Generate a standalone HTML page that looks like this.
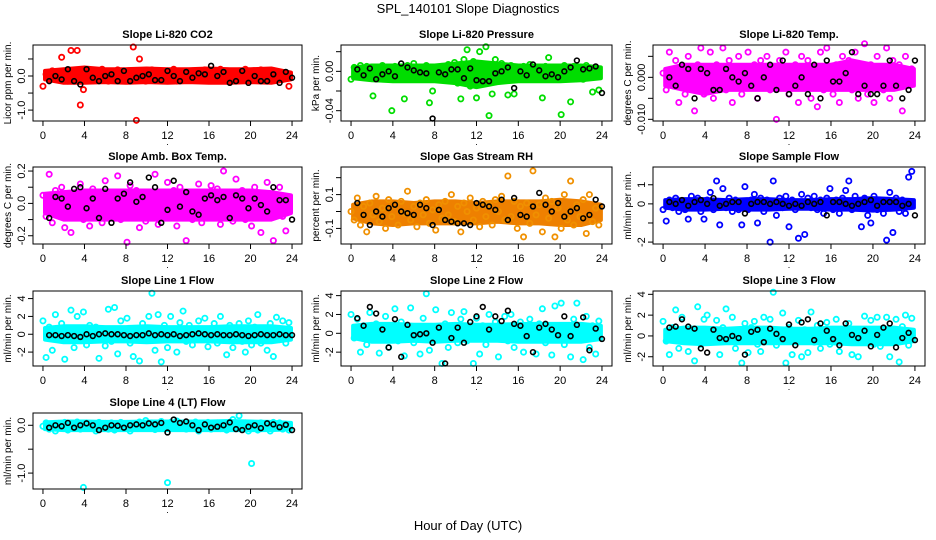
<!DOCTYPE html>
<html><head><meta charset="utf-8"><style>
html,body{margin:0;padding:0;background:#fff;}
svg{display:block;font-family:"Liberation Sans",sans-serif;}
</style></head><body>
<svg id="chart" width="936" height="540" viewBox="0 0 936 540" xmlns="http://www.w3.org/2000/svg">
<rect x="0" y="0" width="936" height="540" fill="#fff"/>
<text x="468" y="13" text-anchor="middle" font-size="13">SPL_140101  Slope Diagnostics</text>
<text x="468" y="530" text-anchor="middle" font-size="13">Hour of Day (UTC)</text>
</svg>
<script>
const hrs=[0,0.3,0.6,0.9,1.2,1.5,1.8,2.1,2.4,2.7,3,3.3,3.6,3.9,4.2,4.5,4.8,5.1,5.4,5.7,6,6.3,6.6,6.9,7.2,7.5,7.8,8.1,8.4,8.7,9,9.3,9.6,9.9,10.2,10.5,10.8,11.1,11.4,11.7,12,12.3,12.6,12.9,13.2,13.5,13.8,14.1,14.4,14.7,15,15.3,15.6,15.9,16.2,16.5,16.8,17.1,17.4,17.7,18,18.3,18.6,18.9,19.2,19.5,19.8,20.1,20.4,20.7,21,21.3,21.6,21.9,22.2,22.5,22.8,23.1,23.4,23.7];
const bhrs=[0.6,1.2,1.8,2.4,3.0,3.6,4.2,4.8,5.4,6.0,6.6,7.2,7.8,8.4,9.0,9.6,10.2,10.8,11.4,12.0,12.6,13.2,13.8,14.4,15.0,15.6,16.2,16.8,17.4,18.0,18.6,19.2,19.8,20.4,21.0,21.6,22.2,22.8,23.4,24.0];
const bandHrs=[0.2,2,4,6,8,10,12,14,16,18,20,22,23.9];
const xTicks=[0,4,8,12,16,20,24];

const co2Vals=[-0.30,0.05,-0.10,0.15,0.00,-0.12,0.55,0.10,-0.15,0.75,0.12,0.75,-0.85,-0.40,0.10,-0.12,0.15,0.00,-0.10,0.20,0.05,-0.15,0.12,-0.05,0.18,0.00,-0.12,0.10,-0.08,0.85,-1.30,0.50,0.12,-0.15,0.05,0.18,-0.10,0.00,0.15,-0.12,0.08,-0.05,0.20,-0.15,0.05,0.12,-0.10,0.00,0.15,-0.08,0.10,-0.12,0.18,0.02,-0.10,0.12,-0.05,0.20,0.00,-0.15,0.10,0.05,-0.12,0.15,-0.05,0.20,0.00,-0.10,0.12,-0.08,0.18,0.02,-0.12,0.10,0.15,-0.05,0.08,-0.10,0.05,-0.30];
const co2Black=[-0.15,0.0,-0.1,0.2,-0.15,-0.25,0.2,-0.05,-0.15,0.0,0.05,-0.15,0.15,-0.15,-0.05,0.0,0.05,-0.12,-0.12,0.15,0.0,-0.15,0.12,-0.05,0.08,0.05,0.3,0.0,0.12,-0.2,-0.15,0.15,-0.2,0.0,-0.15,-0.15,0.05,-0.2,0.12,-0.05];
const co2Lo=[-0.1,-0.2,-0.2,-0.18,-0.2,-0.18,-0.2,-0.18,-0.2,-0.2,-0.18,-0.2,-0.1];
const co2Hi=[0.15,0.2,0.25,0.2,0.2,0.22,0.2,0.2,0.22,0.2,0.2,0.22,0.1];
const presVals=[-0.008,0.004,-0.005,0.006,-0.003,0.005,-0.006,-0.025,0.003,-0.004,0.006,-0.007,0.002,-0.04,0.005,-0.006,0.004,-0.028,0.006,-0.004,0.008,-0.008,0.003,-0.005,0.006,-0.032,-0.02,0.004,-0.006,0.005,-0.008,0.007,-0.004,0.009,-0.012,-0.028,0.012,0.022,-0.015,0.010,-0.027,0.02,-0.012,0.025,-0.045,-0.023,0.012,-0.010,0.008,-0.006,-0.024,0.006,-0.023,0.004,-0.006,0.005,-0.008,0.007,-0.005,0.004,-0.008,-0.027,0.005,0.014,-0.006,0.004,-0.007,-0.044,0.006,-0.004,-0.031,0.005,-0.006,0.004,-0.008,0.006,-0.004,-0.021,0.003,-0.019];
const presBlack=[0.002,-0.004,0.003,-0.008,-0.003,0.000,-0.005,0.008,0.004,0.001,-0.001,-0.002,-0.048,-0.001,-0.003,0.002,0.002,-0.007,0.003,-0.009,-0.010,-0.010,-0.002,0.000,0.004,-0.017,0.000,-0.004,0.007,0.001,-0.005,-0.003,-0.006,0.000,0.004,0.011,0.002,0.003,0.005,-0.022];
const presLo=[-0.007,-0.009,-0.01,-0.01,-0.01,-0.012,-0.016,-0.012,-0.01,-0.01,-0.01,-0.009,-0.007];
const presHi=[0.004,0.006,0.006,0.006,0.006,0.008,0.01,0.008,0.006,0.006,0.006,0.006,0.004];
const tempVals=[0.001,-0.003,0.006,-0.002,0.004,-0.006,0.002,-0.004,0.005,-0.002,-0.008,0.003,0.007,-0.004,0.001,0.006,-0.005,0.003,-0.002,0.007,-0.003,0.004,-0.006,0.002,0.005,-0.004,0.000,0.006,-0.002,0.003,-0.005,0.004,-0.001,0.005,-0.003,0.002,-0.010,0.004,-0.002,0.006,-0.004,0.001,0.003,-0.006,0.005,-0.002,0.004,-0.005,0.002,-0.007,0.006,-0.003,0.007,0.001,-0.004,0.003,-0.006,0.005,-0.002,0.004,-0.003,0.006,-0.005,0.002,0.008,-0.004,0.003,-0.006,0.005,0.000,-0.003,0.007,-0.005,0.004,-0.002,0.003,-0.008,0.005,-0.001,0.002];
const tempBlack=[0.000,-0.002,0.003,0.002,-0.005,0.002,0.001,-0.003,-0.003,0.002,0.000,-0.001,0.001,-0.002,-0.005,0.000,0.003,-0.003,0.004,-0.004,-0.002,0.000,-0.004,0.003,-0.005,0.004,-0.001,-0.001,0.001,0.006,-0.004,-0.002,-0.004,-0.004,-0.002,0.004,-0.002,-0.005,-0.003,0.004];
const tempLo=[-0.002,-0.003,-0.004,-0.003,-0.003,-0.003,-0.003,-0.003,-0.003,-0.003,-0.003,-0.003,-0.002];
const tempHi=[0.002,0.003,0.003,0.003,0.003,0.003,0.003,0.003,0.003,0.004,0.003,0.003,0.002];
const ambVals=[0.05,-0.08,0.18,-0.12,0.08,-0.03,0.10,-0.15,0.02,-0.18,0.06,-0.05,0.12,-0.10,0.04,-0.14,0.09,-0.02,0.07,-0.12,0.14,-0.06,0.03,-0.08,0.17,-0.10,0.05,-0.24,0.11,-0.04,0.08,-0.15,0.02,-0.11,0.06,-0.07,0.18,-0.13,0.05,-0.09,0.13,-0.03,0.08,-0.14,0.10,-0.06,-0.23,0.07,-0.10,0.04,0.12,-0.12,0.03,-0.08,0.11,-0.05,0.09,-0.13,0.20,-0.07,0.06,-0.11,0.15,-0.04,0.08,-0.10,0.03,-0.14,0.10,-0.06,-0.18,0.05,0.13,-0.09,-0.23,0.02,0.10,-0.08,-0.17,0.03];
const ambBlack=[-0.09,0.04,0.03,-0.02,0.09,0.10,-0.03,0.03,-0.09,0.09,-0.12,0.03,0.06,0.13,0.01,0.04,0.16,0.10,-0.12,-0.04,0.14,-0.02,0.07,-0.05,-0.07,0.03,0.05,0.02,0.04,-0.09,0.05,0.03,-0.03,0.03,-0.01,-0.05,0.10,0.02,0.02,-0.10];
const ambLo=[-0.06,-0.1,-0.1,-0.1,-0.1,-0.1,-0.1,-0.1,-0.1,-0.1,-0.1,-0.1,-0.06];
const ambHi=[0.06,0.07,0.08,0.08,0.08,0.08,0.08,0.08,0.08,0.08,0.08,0.07,0.05];
const rhVals=[0.0,-0.05,0.08,-0.08,0.03,-0.12,0.05,-0.02,0.09,-0.06,0.02,-0.10,0.07,-0.03,0.04,-0.08,0.06,-0.01,0.12,-0.05,0.03,-0.09,0.05,-0.02,0.07,-0.07,0.01,-0.11,0.04,-0.04,0.06,-0.02,0.10,-0.06,0.03,-0.12,0.05,0.00,0.08,-0.05,0.02,-0.09,0.06,-0.03,0.04,-0.08,0.07,0.00,0.09,-0.05,0.21,-0.03,0.06,-0.10,0.03,-0.15,0.05,-0.07,0.24,-0.02,0.04,-0.12,0.08,-0.04,0.06,-0.15,0.02,-0.10,0.10,-0.05,0.18,-0.08,0.04,-0.03,0.07,-0.13,0.10,-0.06,0.02,-0.08];
const rhBlack=[0.05,-0.02,-0.08,0.0,-0.03,0.02,0.04,0.0,-0.01,-0.02,0.04,0.02,-0.08,0.01,-0.05,-0.06,-0.07,-0.07,-0.08,0.05,0.04,0.03,0.01,0.07,-0.05,0.08,-0.02,-0.03,0.03,0.11,0.04,0.0,0.05,-0.03,0.0,0.02,-0.04,-0.02,0.07,0.03];
const rhLo=[-0.04,-0.07,-0.08,-0.07,-0.07,-0.07,-0.07,-0.06,-0.07,-0.07,-0.08,-0.08,-0.05];
const rhHi=[0.04,0.06,0.06,0.05,0.06,0.06,0.05,0.06,0.06,0.06,0.07,0.06,0.04];
const sampVals=[-0.3,-0.9,0.2,-0.2,0.3,-0.4,0.1,-0.3,-0.8,0.4,-0.2,0.3,-0.4,-0.8,0.2,0.6,-0.3,1.2,-1.1,0.8,-0.2,0.3,-0.4,0.2,-0.3,-1.1,0.9,-0.3,0.2,0.5,-1.0,0.3,-0.4,0.2,-2.0,1.2,-0.6,0.3,-0.2,0.4,-1.2,0.2,-0.3,-1.8,0.5,-1.6,0.3,-0.2,0.4,-0.3,0.2,-0.5,0.3,0.8,-0.3,0.2,-0.5,0.3,0.7,1.2,-0.3,0.4,-0.2,-1.2,0.3,-0.6,-1.0,0.4,-0.3,0.2,-0.5,-1.9,0.6,-1.5,0.3,-0.4,0.2,-0.5,1.4,1.7];
const sampBlack=[0.1,0.0,0.2,-0.1,0.1,0.2,0.0,0.3,-0.1,0.0,0.1,0.1,-0.5,0.0,0.1,0.1,0.0,0.1,0.0,-0.1,0.0,-0.1,0.1,0.0,0.1,-0.6,0.1,0.1,0.0,-0.1,0.0,0.1,0.2,-0.1,0.1,0.1,0.1,-0.1,0.0,-0.6];
const sampLo=[-0.2,-0.3,-0.3,-0.25,-0.3,-0.3,-0.25,-0.25,-0.3,-0.3,-0.35,-0.3,-0.2];
const sampHi=[0.2,0.25,0.25,0.2,0.25,0.25,0.2,0.2,0.25,0.25,0.3,0.25,0.2];
const l1Vals=[1.5,-2.6,0.8,-1.8,2.2,-0.6,1.2,-2.8,0.5,2.7,-1.5,2.0,-0.4,2.5,-1.2,1.0,-0.5,0.8,-2.7,0.3,-1.3,2.8,-0.8,3.0,-2.2,1.5,-0.6,1.8,-1.0,-2.5,0.6,-3.0,1.2,-0.7,2.0,4.6,-1.8,2.2,-3.1,1.0,-1.5,2.0,-0.5,-2.0,1.3,2.6,-0.8,1.0,-1.2,0.5,1.5,-0.6,1.8,-1.4,0.4,1.2,-1.0,2.0,-0.5,-2.3,1.0,-1.5,0.6,1.2,-0.8,-2.0,1.5,-1.2,0.8,2.2,-1.0,0.5,-1.8,1.2,-2.5,1.9,-0.6,1.5,-1.0,1.3];
const l1Black=[-0.1,-0.1,-0.2,-0.1,-0.2,-0.3,0.0,-0.2,0.0,0.1,0.0,0.0,-0.1,-0.2,-0.1,-0.1,0.1,-0.1,0.0,-0.1,0.0,-0.2,-0.1,0.0,0.1,0.0,-0.1,0.0,-0.1,-0.1,0.0,-0.1,-0.2,-0.1,0.0,-0.1,-0.1,0.0,-0.1,-0.1];
const l1Lo=[-0.6,-0.9,-0.9,-0.8,-0.8,-0.9,-0.8,-0.8,-0.8,-0.9,-0.9,-0.9,-0.6];
const l1Hi=[0.7,0.9,0.9,0.8,0.8,0.9,0.8,0.8,0.8,0.9,0.9,0.9,0.7];
const l2Vals=[2.0,-0.5,1.5,-2.0,0.8,-1.2,2.2,-0.3,1.0,-2.1,0.5,1.8,-1.5,0.3,2.6,-0.8,1.2,-2.4,0.6,2.7,-1.0,0.3,-2.2,1.6,4.2,-1.8,0.4,2.5,-0.6,-3.2,1.0,-1.5,2.2,0.2,-1.0,1.5,2.3,-0.8,0.5,-3.2,1.6,-2.2,0.8,-1.2,2.0,-0.4,1.2,-2.5,0.6,1.8,-0.8,2.0,-1.5,0.3,1.2,-2.0,0.7,1.5,-0.5,-2.2,1.0,2.6,-1.0,0.4,-2.3,2.9,-0.5,3.2,-1.2,0.8,-2.5,1.5,3.2,-0.6,-2.8,1.8,-1.5,0.8,-2.2,1.3];
const l2Black=[1.6,0.8,2.8,2.1,0.4,-1.5,1.5,-2.5,0.9,-0.2,-0.1,0.0,-1.0,0.6,-3.2,-0.5,0.6,-1.0,1.2,1.8,2.8,0.4,1.8,1.3,2.4,1.0,0.8,-0.3,-2.0,0.6,1.0,0.4,-0.2,1.8,-0.3,0.9,1.7,-1.8,0.5,-0.6];
const l2Lo=[-0.5,-0.9,-0.9,-0.8,-0.9,-0.8,-0.8,-0.8,-0.9,-0.9,-0.9,-0.9,-0.6];
const l2Hi=[0.8,1.0,1.0,0.9,0.9,1.0,0.9,0.9,1.0,1.0,1.0,1.0,0.8];
const l3Vals=[1.4,-0.5,-1.8,0.8,2.5,-1.2,1.8,0.3,-1.5,0.6,-2.4,2.8,-0.8,1.6,2.0,-0.3,0.5,1.5,-1.8,0.8,2.6,-0.5,1.8,-1.2,0.4,-2.6,1.2,-1.6,0.8,1.4,-0.8,-1.5,1.8,-0.4,1.6,4.2,-0.9,0.3,2.2,-2.6,0.8,-1.8,0.5,1.5,-2.0,0.6,-1.6,2.3,-0.6,1.0,-1.2,0.5,1.3,-0.8,0.3,1.6,-1.5,0.5,-0.6,1.2,-1.8,0.6,-2.0,0.4,1.9,-0.5,1.5,-0.8,1.8,-1.0,0.6,1.8,-2.0,-0.5,1.6,-2.5,0.9,2.0,-0.9,1.7];
const l3Black=[0.8,0.9,1.6,0.9,0.7,-1.2,-1.6,0.6,-0.2,-0.3,0.0,-0.2,-1.8,0.4,0.6,-0.6,0.7,0.2,-0.3,1.1,-0.9,1.3,1.6,-0.4,1.2,0.5,-0.3,-0.9,1.2,0.1,-0.2,0.5,-1.0,0.1,0.8,1.2,-1.1,-0.2,0.3,-0.4];
const l3Lo=[-0.5,-0.7,-0.8,-0.7,-0.7,-0.7,-0.7,-0.7,-0.7,-0.8,-0.8,-0.8,-0.5];
const l3Hi=[0.6,0.8,0.8,0.7,0.8,0.8,0.7,0.7,0.8,0.8,0.8,0.8,0.6];
const l4Vals=[-0.02,0.05,-0.08,0.03,-0.12,0.04,-0.05,0.06,-0.10,0.02,-0.04,0.07,-0.08,-1.30,0.05,-0.06,0.03,-0.12,0.06,-0.03,0.04,-0.08,0.05,-0.10,0.02,0.06,-0.05,0.04,-0.12,0.03,-0.04,0.07,-0.06,0.10,-0.03,0.05,-0.09,0.04,0.08,-0.02,-1.20,0.06,-0.05,0.09,-0.04,0.05,-0.08,0.03,-0.06,0.07,-0.12,0.04,-0.03,0.06,-0.08,0.02,0.05,-0.07,0.04,-0.10,0.06,0.12,-0.05,0.20,-0.08,0.05,-0.12,-0.80,0.03,-0.10,0.05,-0.06,0.04,-0.12,0.06,-0.03,0.05,-0.08,0.02,-0.10];
const l4Black=[-0.05,0.0,-0.02,0.05,-0.05,0.0,0.04,0.0,-0.1,-0.05,0.0,-0.01,-0.05,0.0,0.02,0.0,0.04,0.02,0.05,-0.15,0.12,0.05,0.08,0.0,-0.1,0.02,-0.05,-0.03,0.0,0.06,-0.08,-0.1,-0.03,0.0,-0.06,0.04,0.02,-0.04,0.01,-0.1];
const l4Lo=[-0.08,-0.1,-0.1,-0.1,-0.1,-0.1,-0.1,-0.1,-0.1,-0.1,-0.1,-0.1,-0.08];
const l4Hi=[0.06,0.08,0.08,0.07,0.07,0.08,0.08,0.08,0.08,0.09,0.08,0.07,0.05];

const co2Ticks=[0.5,0,-0.5,-1.0], co2Labels=["","0.0","","-1.0"];
const presTicks=[0.02,0,-0.02,-0.04], presLabels=["","0.00","","-0.04"];
const tempTicks=[0.005,0,-0.005,-0.010], tempLabels=["","0.000","","-0.010"];
const ambTicks=[0.2,0.1,0,-0.1,-0.2], ambLabels=["0.2","","0.0","","-0.2"];
const rhTicks=[0.2,0.1,0,-0.1], rhLabels=["","0.1","","-0.1"];
const sampTicks=[1,0,-1,-2], sampLabels=["1","0","","-2"];
const lTicks=[4,2,0,-2], lLabels=["4","2","0","-2"];
const l4Ticks=[0,-0.5,-1.0], l4Labels=["0.0","","-1.0"];

const cols=[[33,302],[341,612],[653,925]];
const rows=[[45,121],[167,244],[291,366],[413,489]];
const panels=[
 {name:'co2',title:'Slope Li-820 CO2',ylab:'Licor ppm per min.',c:0,r:0,ymin:-1.32,ymax:0.91,vals:co2Vals,blk:co2Black,lo:co2Lo,hi:co2Hi,ticks:co2Ticks,labels:co2Labels,color:'#ff0000'},
 {name:'pressure',title:'Slope Li-820 Pressure',ylab:'kPa per min.',c:1,r:0,ymin:-0.0505,ymax:0.0268,vals:presVals,blk:presBlack,lo:presLo,hi:presHi,ticks:presTicks,labels:presLabels,color:'#00dd00'},
 {name:'temp',title:'Slope Li-820 Temp.',ylab:'degrees C per min.',c:2,r:0,ymin:-0.0104,ymax:0.0077,vals:tempVals,blk:tempBlack,lo:tempLo,hi:tempHi,ticks:tempTicks,labels:tempLabels,color:'#ff00ff'},
 {name:'amb-box-temp',title:'Slope Amb. Box Temp.',ylab:'degrees C per min.',c:0,r:1,ymin:-0.251,ymax:0.225,vals:ambVals,blk:ambBlack,lo:ambLo,hi:ambHi,ticks:ambTicks,labels:ambLabels,color:'#ff00ff'},
 {name:'gas-stream-rh',title:'Slope Gas Stream RH',ylab:'percent per min.',c:1,r:1,ymin:-0.192,ymax:0.263,vals:rhVals,blk:rhBlack,lo:rhLo,hi:rhHi,ticks:rhTicks,labels:rhLabels,color:'#f09000',band:'#ee8000'},
 {name:'sample-flow',title:'Slope Sample Flow',ylab:'ml/min per min.',c:2,r:1,ymin:-2.1,ymax:1.93,vals:sampVals,blk:sampBlack,lo:sampLo,hi:sampHi,ticks:sampTicks,labels:sampLabels,color:'#0000ff'},
 {name:'line1-flow',title:'Slope Line 1 Flow',ylab:'ml/min per min.',c:0,r:2,ymin:-3.56,ymax:4.85,vals:l1Vals,blk:l1Black,lo:l1Lo,hi:l1Hi,ticks:lTicks,labels:lLabels,color:'#00ffff'},
 {name:'line2-flow',title:'Slope Line 2 Flow',ylab:'ml/min per min.',c:1,r:2,ymin:-3.47,ymax:4.49,vals:l2Vals,blk:l2Black,lo:l2Lo,hi:l2Hi,ticks:lTicks,labels:lLabels,color:'#00ffff'},
 {name:'line3-flow',title:'Slope Line 3 Flow',ylab:'ml/min per min.',c:2,r:2,ymin:-2.89,ymax:4.32,vals:l3Vals,blk:l3Black,lo:l3Lo,hi:l3Hi,ticks:lTicks,labels:lLabels,color:'#00ffff'},
 {name:'line4-flow',title:'Slope Line 4 (LT) Flow',ylab:'ml/min per min.',c:0,r:3,ymin:-1.333,ymax:0.257,vals:l4Vals,blk:l4Black,lo:l4Lo,hi:l4Hi,ticks:l4Ticks,labels:l4Labels,color:'#00ffff'}
];
const NS='http://www.w3.org/2000/svg';
const svg=document.getElementById('chart');
function mk(tag,attrs,parent){const e=document.createElementNS(NS,tag);for(const k in attrs)e.setAttribute(k,attrs[k]);(parent||svg).appendChild(e);return e;}
panels.forEach(p=>{
  const [x0,x1]=cols[p.c],[y0,y1]=rows[p.r];
  const g=mk('g',{});
  
  
  const xs=v=>x0+(v+0.96)/25.92*(x1-x0);
  const ys=v=>y1-(v-p.ymin)/(p.ymax-p.ymin)*(y1-y0);
  const t=mk('text',{x:(x0+x1)/2,y:y0-7,'text-anchor':'middle','font-size':'11','font-weight':'bold'},g);t.textContent=p.title;
  
  
  const yl=mk('text',{x:0,y:0,'text-anchor':'middle','font-size':'10',transform:`translate(${x0-22},${(y0+y1)/2}) rotate(-90)`},g);yl.textContent=p.ylab;
  
  
  // dense core band
  let d='';
  bandHrs.forEach((h,i)=>{d+=(i?'L':'M')+xs(h).toFixed(1)+','+ys(p.hi[i]).toFixed(1);});
  for(let i=bandHrs.length-1;i>=0;i--){d+='L'+xs(bandHrs[i]).toFixed(1)+','+ys(p.lo[i]).toFixed(1);}
  d+='Z';
  const band=mk('path',{d:d,fill:p.band||p.color,stroke:p.band||p.color,'stroke-width':'4','stroke-linejoin':'round'},g);
  
  
  // points
  const pts=mk('g',{fill:'none','stroke-width':'1.8'},g);
  
  
  const n=Math.min(hrs.length,p.vals.length);
  for(let i=0;i<n;i++){
    const c=mk('circle',{cx:xs(hrs[i]),cy:ys(p.vals[i]),r:2.6,stroke:p.color},pts);
    
    
  }
  const bp=mk('g',{fill:'none','stroke-width':'1.6',stroke:'#000'},g);
  
  
  const nb=Math.min(bhrs.length,p.blk.length);
  for(let i=0;i<nb;i++){
    const c=mk('circle',{cx:xs(bhrs[i]),cy:ys(p.blk[i]),r:2.4},bp);
    
    
  }
  const box=mk('rect',{x:x0,y:y0,width:x1-x0,height:y1-y0,fill:'none',stroke:'#000','stroke-width':'1'},g);
  
  
  const xa=mk('g',{},g);
  
  
  mk('line',{x1:xs(0),x2:xs(24),y1:y1,y2:y1,stroke:'#000'},xa);
  xTicks.forEach(v=>{
    mk('line',{x1:xs(v),x2:xs(v),y1:y1,y2:y1+5,stroke:'#000'},xa);
    const tl=mk('text',{x:xs(v),y:y1+18,'text-anchor':'middle','font-size':'11'},xa);tl.textContent=v;
    
    
  });
  const dot=mk('text',{x:xs(12),y:y1+24,'text-anchor':'middle','font-size':'9'},xa);dot.textContent='.';
  const ya=mk('g',{},g);
  
  
  mk('line',{x1:x0,x2:x0,y1:ys(p.ticks[0]),y2:ys(p.ticks[p.ticks.length-1]),stroke:'#000'},ya);
  p.ticks.forEach((v,i)=>{
    mk('line',{x1:x0-5,x2:x0,y1:ys(v),y2:ys(v),stroke:'#000'},ya);
    if(p.labels[i]){
      const tl=mk('text',{x:0,y:0,'text-anchor':'middle','font-size':'11',transform:`translate(${x0-8},${ys(v)}) rotate(-90)`},ya);tl.textContent=p.labels[i];
      
      
    }
  });
});
</script>
</body></html>
